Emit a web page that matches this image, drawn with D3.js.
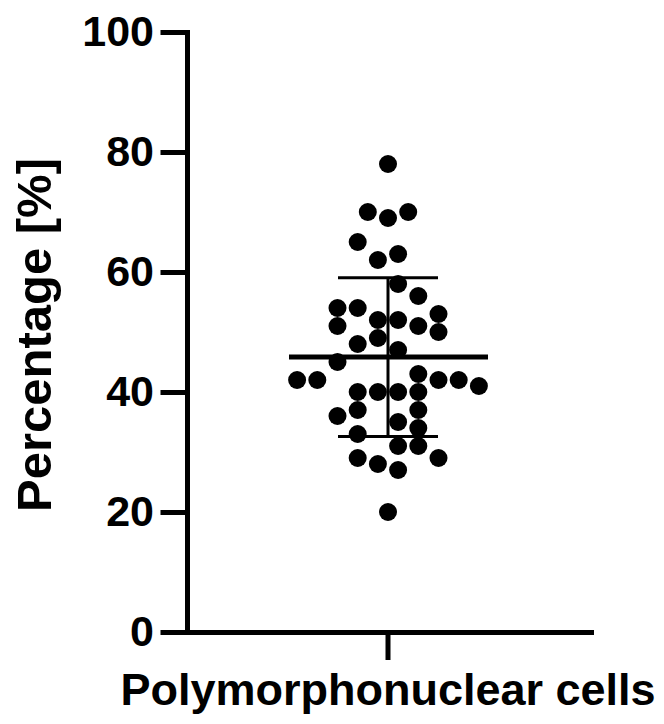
<!DOCTYPE html>
<html>
<head>
<meta charset="utf-8">
<script src="https://cdn.jsdelivr.net/npm/d3@7/dist/d3.min.js"></script>
<style>
    html, body { margin: 0; padding: 0; background: #fff; }
    svg { display: block; }
</style>
</head>
<body>
<svg id="chart" width="664" height="724"></svg>
<script>
'use strict';

// one group, values
const category = 'Polymorphonuclear cells';
const yTicks = [0, 20, 40, 60, 80, 100];
const values = [78, 70, 70, 69, 65, 63, 62, 58, 56, 54, 54, 53, 52, 52, 51, 51, 50, 49, 48, 47, 45, 43,
    42, 42, 42, 42, 41, 40, 40, 40, 40, 37, 37, 36, 35, 34, 33, 31, 31, 29, 29, 28, 27, 20];
// horizontal slot of each dot in the swarm (in dot widths from centre)
const slots = [0, -1, 1, 0, -1.5, 0.5, -0.5, 0.5, 1.5, -2.5, -1.5, 2.5, -0.5, 0.5, -2.5, 1.5, 2.5, -0.5, -1.5, 0.5, -2.5, 1.5,
    -4.5, -3.5, 2.5, 3.5, 4.5, -1.5, -0.5, 0.5, 1.5, -1.5, 1.5, -2.5, 0.5, 1.5, -1.5, 0.5, 1.5, -1.5, 2.5, -0.5, 0.5, 0];

const svg = d3.select('#chart');
const plotLeft = 187;
const plotTop = 32;
const plotBottom = 632;
const plotRight = 591;
const axisWidth = 5;
const dotRadius = 9;
const dotStep = 20.2;
const fontFamily = '"Liberation Sans", Arial, sans-serif';

const y = d3.scaleLinear().domain([0, 100]).range([plotBottom, plotTop]);
const x = d3.scaleBand().domain([category]).range([plotLeft - 2, plotRight]);
const center = x(category) + x.bandwidth() / 2;
const slotX = d3.scaleLinear().domain([-1, 1]).range([center - dotStep, center + dotStep]);

const points = values.map((v, i) => ({ value: v, slot: slots[i] }));

// dots
svg.append('g')
    .selectAll('circle')
    .data(points)
    .enter().append('circle')
    .attr('cx', (d) => slotX(d.slot))
    .attr('cy', (d) => y(d.value))
    .attr('r', dotRadius)
    .attr('fill', '#000');

// mean and SD
const mean = d3.mean(values);
const sd = d3.deviation(values);
const bars = svg.append('g').attr('stroke', '#000');

bars.append('line')
    .attr('x1', center).attr('x2', center)
    .attr('y1', y(mean + sd)).attr('y2', y(mean - sd))
    .attr('stroke-width', 3);

bars.selectAll('line.cap')
    .data([mean + sd, mean - sd])
    .enter().append('line')
    .attr('class', 'cap')
    .attr('x1', center - 50).attr('x2', center + 50)
    .attr('y1', (d) => y(d)).attr('y2', (d) => y(d))
    .attr('stroke-width', 3);

bars.append('line')
    .attr('x1', center - 99).attr('x2', center + 100)
    .attr('y1', y(mean)).attr('y2', y(mean))
    .attr('stroke-width', 5);

// y axis
const yAxis = svg.append('g')
    .attr('transform', `translate(${plotLeft},0)`)
    .call(d3.axisLeft(y).tickValues(yTicks).tickSize(24).tickSizeOuter(0).tickPadding(9));

yAxis.selectAll('line, path')
    .attr('stroke', '#000')
    .attr('stroke-width', axisWidth)
    .attr('stroke-linecap', 'square');
yAxis.selectAll('text')
    .attr('fill', '#000')
    .style('font-family', fontFamily)
    .style('font-weight', 'bold')
    .style('font-size', '43px');

// x axis
const xAxis = svg.append('g')
    .attr('transform', `translate(0,${plotBottom})`)
    .call(d3.axisBottom(x).tickSize(28).tickSizeOuter(0).tickPadding(13));

xAxis.selectAll('line, path')
    .attr('stroke', '#000')
    .attr('stroke-width', axisWidth);
xAxis.select('path').attr('stroke-linecap', 'square');
xAxis.selectAll('text')
    .attr('fill', '#000')
    .style('font-family', fontFamily)
    .style('font-weight', 'bold')
    .style('font-size', '45px');

// y title
svg.append('text')
    .attr('transform', 'translate(51,335) rotate(-90)')
    .attr('text-anchor', 'middle')
    .style('font-family', fontFamily)
    .style('font-weight', 'bold')
    .style('font-size', '49px')
    .text('Percentage [%]');
</script>
</body>
</html>
